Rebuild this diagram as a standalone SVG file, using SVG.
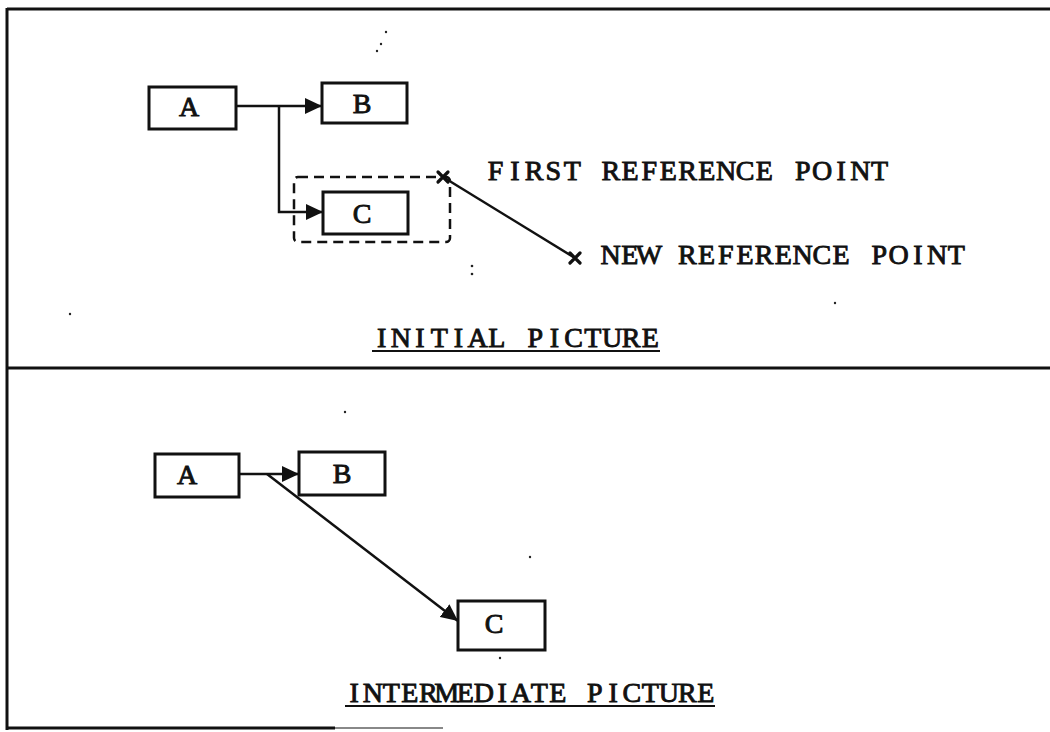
<svg xmlns="http://www.w3.org/2000/svg" width="1050" height="732" viewBox="0 0 1050 732">
  <style>
    .box { fill: #fff; stroke: #111; stroke-width: 3; }
    .lbl { font-family: "Liberation Serif", "DejaVu Serif", serif; font-size: 28px; fill: #111; stroke: #111; stroke-width: 0.9; }
    .conn { fill: none; stroke: #111; stroke-width: 2.5; }
    .xm { fill: none; stroke: #111; stroke-width: 3.2; stroke-linecap: round; }
    .frame { fill: none; stroke: #111; stroke-width: 3; }
    .dash { fill: none; stroke: #111; stroke-width: 2.5; stroke-dasharray: 10 6; }
    .ul { stroke: #111; stroke-width: 2; }
    .dot { fill: #222; }
  </style>
  <defs>
    <marker id="arr" markerUnits="userSpaceOnUse" markerWidth="17" markerHeight="16" refX="17" refY="8" orient="auto">
      <path d="M0,0 L17,8 L0,16 z" fill="#111"/>
    </marker>
  </defs>
  <rect width="1050" height="732" fill="#fff"/>

  <g id="frame">
    <line class="frame" x1="7" y1="9" x2="1050" y2="9"/>
    <line class="frame" x1="7" y1="8" x2="7" y2="730"/>
    <line class="frame" x1="7" y1="368" x2="1050" y2="368"/>
    <line class="frame" x1="7" y1="728" x2="335" y2="728"/>
    <line x1="335" y1="728" x2="443" y2="728" stroke="#888" stroke-width="2"/>
  </g>

  <g id="noise">
    <circle class="dot" cx="386" cy="32" r="1.2"/>
    <circle class="dot" cx="381" cy="44" r="1.2"/>
    <circle class="dot" cx="377" cy="51" r="1.2"/>
    <circle class="dot" cx="472" cy="266" r="1.3"/>
    <circle class="dot" cx="472" cy="274" r="1.3"/>
    <circle class="dot" cx="835" cy="303" r="1.2"/>
    <circle class="dot" cx="70" cy="314" r="1.2"/>
    <circle class="dot" cx="345" cy="412" r="1.2"/>
    <circle class="dot" cx="530" cy="557" r="1.2"/>
    <circle class="dot" cx="500" cy="658" r="1.2"/>
  </g>

  <g id="connectors">
    <path class="conn" d="M236,106 L322,106" marker-end="url(#arr)"/>
    <path class="conn" d="M279,106 L279,212 L323,212" marker-end="url(#arr)"/>
    <path class="conn" d="M443,177 L575,258"/>
    <path class="conn" d="M239,474 L299,474" marker-end="url(#arr)"/>
    <path class="conn" d="M267,474 L458,621" marker-end="url(#arr)"/>
  </g>

  <g id="init-A">
    <rect class="box" x="149" y="87" width="87" height="42"/>
    <text class="lbl" x="189" y="116" text-anchor="middle">A</text>
  </g>
  <g id="init-B">
    <rect class="box" x="322" y="83" width="85" height="40"/>
    <text class="lbl" x="362" y="113" text-anchor="middle">B</text>
  </g>
  <g id="init-C">
    <rect class="box" x="323" y="192" width="85" height="42"/>
    <text class="lbl" x="362" y="223" text-anchor="middle">C</text>
  </g>
  <g id="selection">
    <rect class="dash" x="294" y="177" width="156" height="65" rx="4"/>
  </g>
  <g id="first-ref">
    <path class="xm" d="M438,172 L448,182 M448,172 L438,182"/>
    <text class="lbl" text-anchor="middle" y="180" x="495.6 514.8 534 553.2 572.4 591.6 610.8 630 649.2 668.4 687.6 706.8 726 745.2 764.4 783.6 802.8 822 841.2 860.4 879.6">FIRST REFERENCE POINT</text>
  </g>
  <g id="new-ref">
    <path class="xm" d="M570,253 L580,263 M580,253 L570,263"/>
    <text class="lbl" text-anchor="middle" y="264" x="610.6 629.8 649 668.2 687.4 706.6 725.8 745 764.2 783.4 802.6 821.8 841 860.2 879.4 898.6 917.8 937 956.2">NEW REFERENCE POINT</text>
  </g>
  <g id="title-initial">
    <text class="lbl" text-anchor="middle" y="347" x="381.6 400.8 420 439.2 458.4 477.6 496.8 516 535.2 554.4 573.6 592.8 612 631.2 650.4">INITIAL PICTURE</text>
    <line class="ul" x1="372" y1="351" x2="660" y2="351"/>
  </g>

  <g id="inter-A">
    <rect class="box" x="155" y="454" width="84" height="43"/>
    <text class="lbl" x="187" y="484" text-anchor="middle">A</text>
  </g>
  <g id="inter-B">
    <rect class="box" x="299" y="452" width="86" height="43"/>
    <text class="lbl" x="342" y="483" text-anchor="middle">B</text>
  </g>
  <g id="inter-C">
    <rect class="box" x="458" y="601" width="87" height="49"/>
    <text class="lbl" x="494" y="633" text-anchor="middle">C</text>
  </g>
  <g id="title-intermediate">
    <text class="lbl" text-anchor="middle" y="702" x="354.25 372.75 391.25 409.75 428.25 446.75 465.25 483.75 502.25 520.75 539.25 557.75 576.25 594.75 613.25 631.75 650.25 668.75 687.25 705.75">INTERMEDIATE PICTURE</text>
    <line class="ul" x1="345" y1="706" x2="715" y2="706"/>
  </g>
</svg>
